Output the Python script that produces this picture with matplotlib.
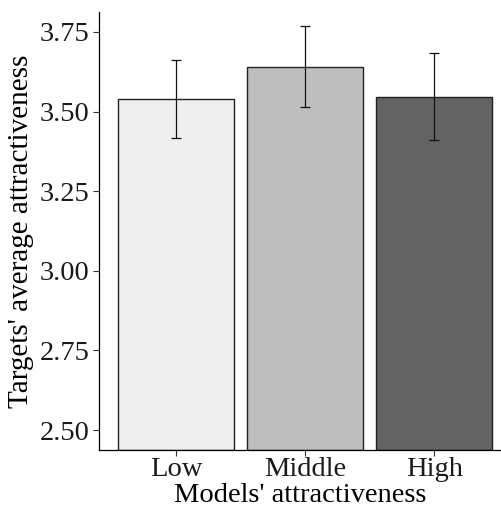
import matplotlib
matplotlib.use("Agg")
import matplotlib.pyplot as plt

categories = ["Low", "Middle", "High"]
means = [3.540, 3.641, 3.546]
err_low = [3.416, 3.513, 3.411]
err_high = [3.663, 3.770, 3.685]
fills = ["#EFEFEF", "#BEBEBE", "#636363"]
yticks = [2.50, 2.75, 3.00, 3.25, 3.50, 3.75]

plt.rcParams['font.family'] = ['Liberation Serif', 'DejaVu Serif']

fig = plt.figure(figsize=(5.01, 5.07), dpi=100)
ax = fig.add_axes([99/501, 57/507, 402/501, 438/507])

x = [1, 2, 3]
ax.bar(x, [m - 2.4375 for m in means], bottom=2.4375, width=0.9, color=fills,
       edgecolor="#222222", linewidth=1.0, zorder=2)
yerr = [[m - l for m, l in zip(means, err_low)], [h - m for m, h in zip(means, err_high)]]
ax.errorbar(x, means, yerr=yerr, fmt="none", ecolor="#111111", elinewidth=0.9,
            capsize=3.8, capthick=0.9, zorder=3)

ax.set_xlim(0.4, 3.516)
ax.set_ylim(2.4375, 3.8125)
ax.set_xticks(x)
ax.set_xticklabels(categories)
ax.set_yticks(yticks)
ax.set_yticklabels([f"{v:.2f}" for v in yticks])
for s in ["top", "right"]:
    ax.spines[s].set_visible(False)
for s in ["left", "bottom"]:
    ax.spines[s].set_linewidth(0.9)
    ax.spines[s].set_color("black")
ax.tick_params(axis="both", length=4, width=0.8, color="#333333",
               labelsize=20.5, labelcolor="#1a1a1a", pad=3)
ax.tick_params(axis="x", pad=1)
ax.set_xlabel("Models' attractiveness", fontsize=20.5, color="black", labelpad=1)
ax.set_ylabel("Targets' average attractiveness", fontsize=21, color="black", labelpad=4)

fig.savefig("out.png", dpi=100)
